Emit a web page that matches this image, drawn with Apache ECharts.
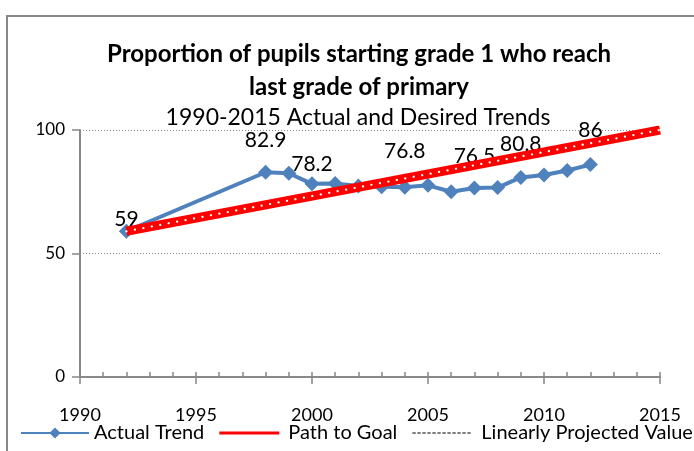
<!DOCTYPE html>
<html>
<head>
<meta charset="utf-8">
<script src="https://cdn.jsdelivr.net/npm/echarts@6/dist/echarts.min.js"></script>
<style>
  html, body { margin: 0; padding: 0; background: #fff; }
  #chart { width: 694px; height: 451px; }
</style>
</head>
<body>
<div id="chart"></div>
<script>
// data
var years = [1992, 1998, 1999, 2000, 2001, 2002, 2003, 2004, 2005, 2006, 2007, 2008, 2009, 2010, 2011, 2012];
var actual = [59, 82.9, 82.5, 78.2, 78.3, 77.3, 77, 76.8, 77.6, 75, 76.5, 76.7, 80.8, 81.8, 83.6, 86];
var labelledYears = [1992, 1998, 2000, 2004, 2007, 2009, 2012];
var goalYears = [1992, 2015];
var goalValues = [59, 100];
var yTicks = [0, 50, 100];

var font = "Lato";
var chart = echarts.init(document.getElementById("chart"));

// how far above the marker each value label sits
var labelDistance = { 1992: -6, 1998: 14, 2000: 2, 2004: 18, 2007: 14, 2009: 15, 2012: 16 };

var actualData = years.map(function (y, i) {
  var shown = labelledYears.indexOf(y) >= 0;
  return {
    value: [y, actual[i]],
    label: {
      show: shown,
      position: "top",
      distance: shown ? labelDistance[y] : 0
    }
  };
});

var goalData = goalYears.map(function (y, i) {
  return [y, goalValues[i]];
});

// legend icons (60x14 box, corners pinned by empty sub-paths)
var box = "M0,0 L0,0 Z M60,14 L60,14 Z ";
var redIcon = "path://" + box + "M0,5.5 L60,5.5 L60,8.5 L0,8.5 Z";
var dashIcon = "path://" + box;
for (var d = 0; d < 60; d += 5) {
  dashIcon += "M" + d + ",6.5 L" + (d + 3.4) + ",6.5 L" + (d + 3.4) + ",7.5 L" + d + ",7.5 Z ";
}

var option = {
  animation: false,
  backgroundColor: "#fff",
  textStyle: { fontFamily: font },
  graphic: [
    {
      type: "rect",
      shape: { x: 7, y: 16, width: 720, height: 460 },
      style: { fill: "none", stroke: "#888", lineWidth: 2 },
      silent: true
    }
  ],
  title: [
    {
      text: "Proportion of pupils starting grade 1 who reach",
      left: 354,
      top: 37,
      textAlign: "center",
      textStyle: { fontFamily: font, fontSize: 24, fontWeight: "bold", color: "#000" }
    },
    {
      text: "last grade of primary",
      left: 354,
      top: 70,
      textAlign: "center",
      textStyle: { fontFamily: font, fontSize: 24, fontWeight: "bold", color: "#000" }
    },
    {
      text: "1990-2015 Actual and Desired Trends",
      left: 353,
      top: 101,
      textAlign: "center",
      textStyle: { fontFamily: font, fontSize: 23, fontWeight: "normal", color: "#000" }
    }
  ],
  legend: {
    bottom: 8,
    left: 20,
    width: 900,
    padding: 0,
    itemWidth: 68,
    itemHeight: 14,
    itemGap: 15,
    textStyle: { fontFamily: font, fontSize: 20, color: "#000" },
    data: [
      { name: "Actual Trend" },
      { name: "Path to Goal", icon: redIcon, itemStyle: { color: "#ff0000" } },
      { name: "Linearly Projected Value", icon: dashIcon, itemStyle: { color: "#000" } }
    ]
  },
  grid: { left: 80, right: 34, top: 130, bottom: 74 },
  xAxis: [
    {
      type: "value",
      min: 1990,
      max: 2015,
      interval: 5,
      axisLine: { show: true, onZero: false, lineStyle: { color: "#888", width: 2 } },
      axisTick: { show: true, length: 7, lineStyle: { color: "#888", width: 1.5 } },
      axisLabel: {
        margin: 29, fontSize: 18, color: "#000", fontFamily: font,
        formatter: function (v) { return String(v); }
      },
      splitLine: { show: false }
    },
    {
      type: "value",
      min: 1990,
      max: 2015,
      interval: 1,
      position: "bottom",
      axisLine: { show: false },
      axisTick: { show: true, inside: true, length: 5, lineStyle: { color: "#888", width: 1.5 } },
      axisLabel: { show: false },
      splitLine: { show: false }
    }
  ],
  yAxis: {
    type: "value",
    min: yTicks[0],
    max: yTicks[yTicks.length - 1],
    interval: 50,
    axisLine: { show: true, lineStyle: { color: "#888", width: 2 } },
    axisTick: { show: true, length: 8, lineStyle: { color: "#888", width: 1.5 } },
    axisLabel: { margin: 15, fontSize: 17, color: "#000", fontFamily: font },
    splitLine: { show: true, lineStyle: { color: "#888", type: [1, 2], width: 1 } }
  },
  series: [
    {
      name: "Path to Goal",
      type: "line",
      data: goalData,
      symbol: "none",
      z: 3,
      lineStyle: { color: "#ff0000", width: 9 },
      itemStyle: { color: "#ff0000" }
    },
    {
      name: "goal dots",
      type: "line",
      data: goalData,
      symbol: "none",
      z: 4,
      silent: true,
      lineStyle: { color: "#fff", width: 2.2, type: [0.1, 8.5], cap: "round" }
    },
    {
      name: "Actual Trend",
      type: "line",
      data: actualData,
      symbol: "diamond",
      symbolSize: 15,
      z: 2,
      lineStyle: { color: "#4f81bd", width: 4 },
      itemStyle: { color: "#4f81bd" },
      label: {
        fontFamily: font,
        fontSize: 21,
        color: "#000",
        formatter: function (p) { return p.value[1]; }
      }
    },
    {
      name: "Linearly Projected Value",
      type: "line",
      data: [],
      symbol: "none",
      lineStyle: { color: "#000", width: 1, type: [3, 2] },
      itemStyle: { color: "#000" }
    }
  ]
};

chart.setOption(option);
</script>
</body>
</html>
